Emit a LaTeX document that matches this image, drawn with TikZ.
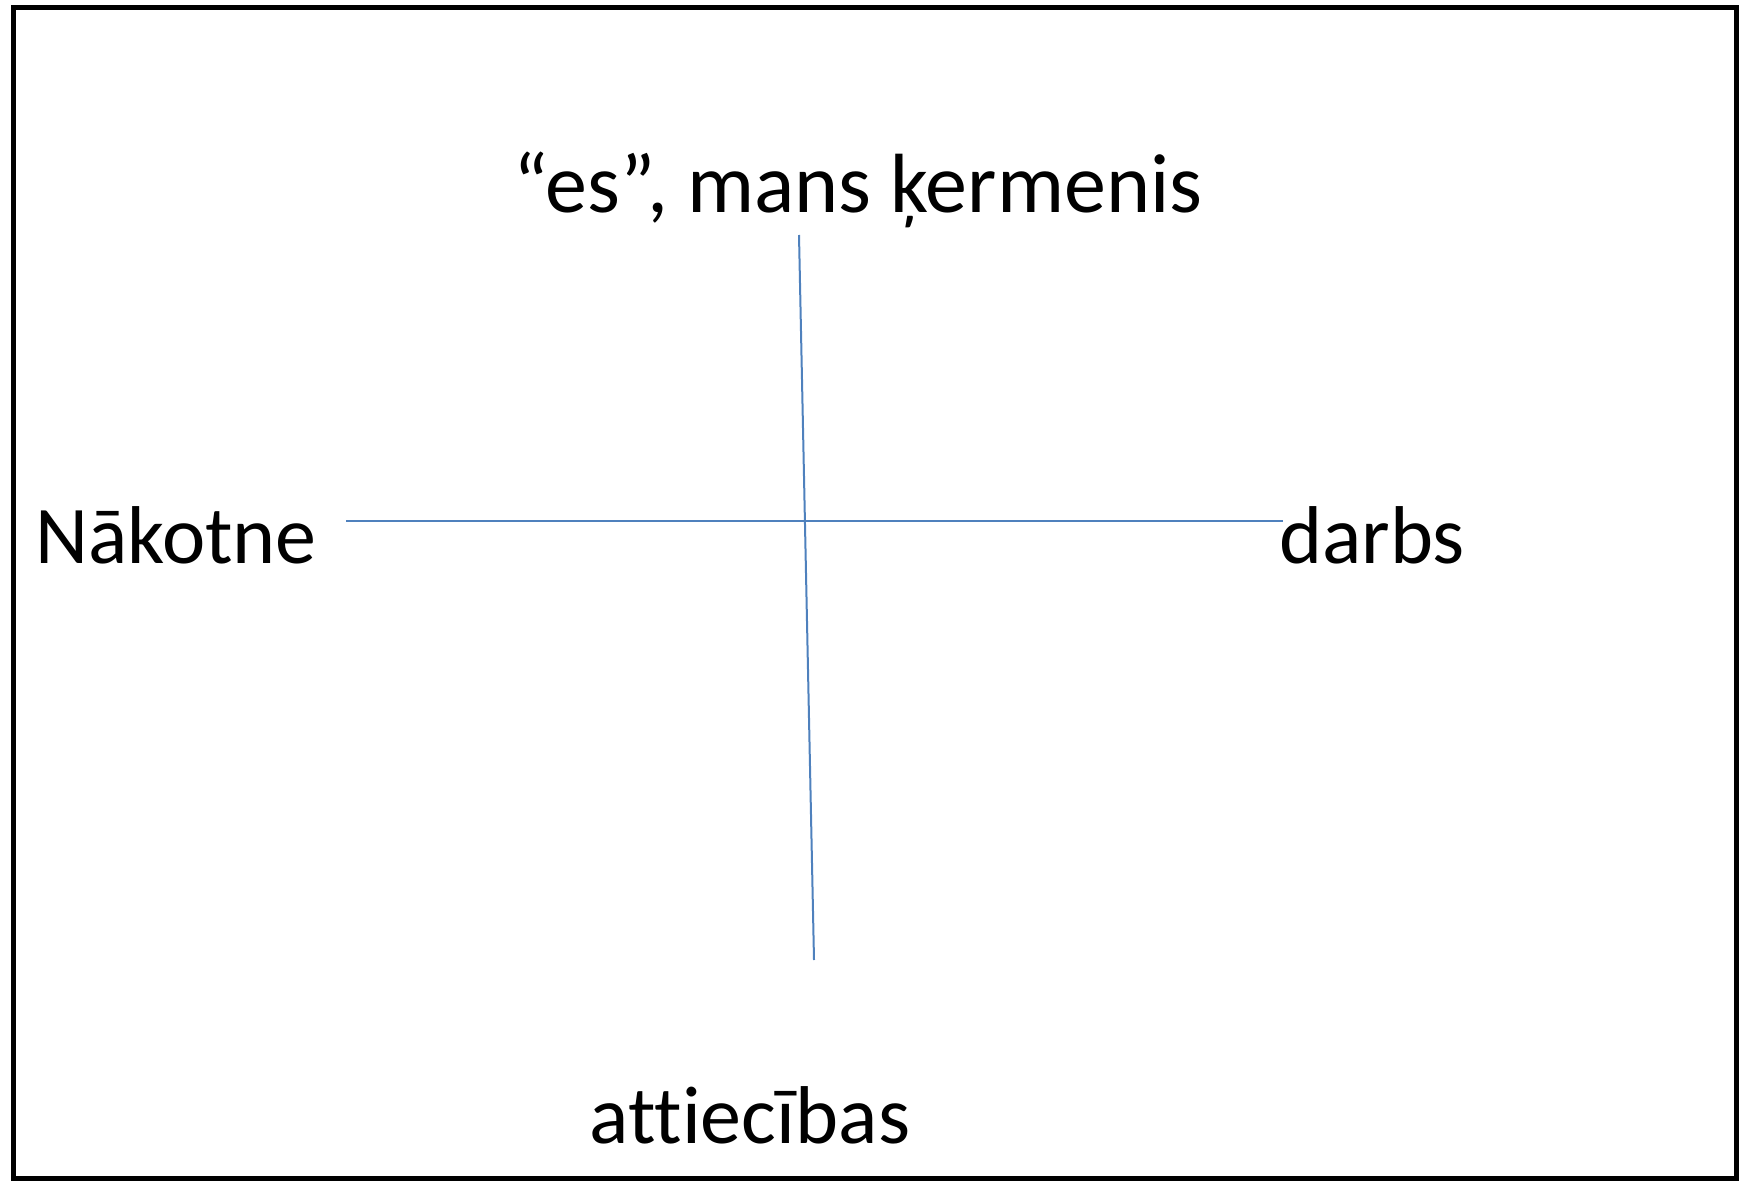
\documentclass[tikz,border=0pt]{standalone}
\usepackage{fontspec}
\setmainfont{Carlito}[Ligatures=NoCommon]
\definecolor{axisblue}{HTML}{4F81BD}
\begin{document}
\begin{tikzpicture}[x=1pt,y=-1pt,
  lbl/.style={anchor=base,inner sep=0pt,font=\fontsize{82}{94}\selectfont},
  axis/.style={draw=axisblue,line width=2pt}]
\useasboundingbox (0,0) rectangle (1739,1182);
\draw[line width=5pt] (13.5,7.5) rectangle (1736.5,1178.5);
\node[lbl,font=\fontsize{84}{96}\selectfont] (top) at (858,213) {“es”, mans ķermenis};
\node[lbl,anchor=base west] (left) at (35,563) {Nākotne};
\node[lbl,anchor=base west] (right) at (1279,563) {darbs};
\node[lbl] (bottom) at (750,1143) {attiecības};
\coordinate (vt) at (799,235);
\coordinate (vb) at (814,960);
\coordinate (hl) at (346,521);
\coordinate (hr) at (1283,521);
\draw[axis] (vt) -- (vb);
\draw[axis] (hl) -- (hr);
\end{tikzpicture}
\end{document}
